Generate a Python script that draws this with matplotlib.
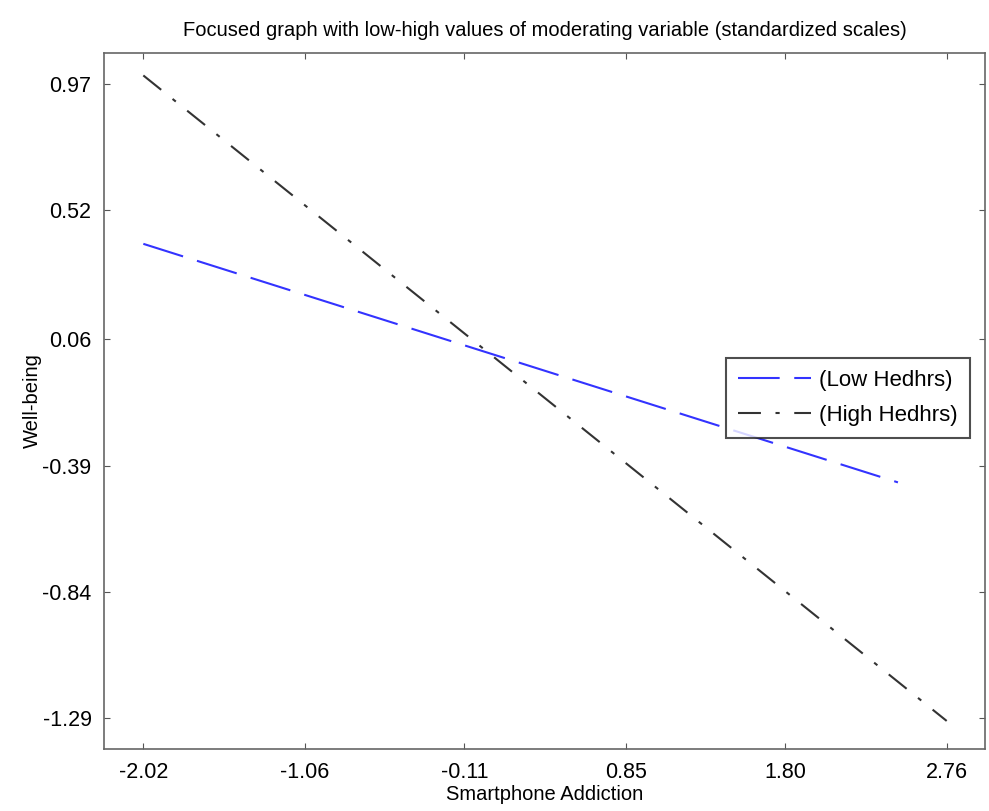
import matplotlib
matplotlib.use("Agg")
import matplotlib.pyplot as plt

plt.rcParams['font.family'] = ['Liberation Sans', 'DejaVu Sans']

x_ticks = [-2.02, -1.06, -0.11, 0.85, 1.80, 2.76]
x_tick_labels = ["-2.02", "-1.06", "-0.11", "0.85", "1.80", "2.76"]
y_ticks = [0.97, 0.52, 0.06, -0.39, -0.84, -1.29]
y_tick_labels = ["0.97", "0.52", "0.06", "-0.39", "-0.84", "-1.29"]

low_x = [-2.02, 2.47]
low_y = [0.40, -0.45]
high_x = [-2.02, 2.76]
high_y = [1.00, -1.30]

fig = plt.figure(figsize=(9.89, 8.11), dpi=100)
ax = fig.add_axes([104/989, 1-749/811, 881/989, 696/811])

ax.plot(low_x, low_y, color='#3333ff', lw=1.5, dashes=(20, 7), label='(Low Hedhrs)')
ax.plot(high_x, high_y, color='#333333', lw=1.5, dashes=(11, 7, 2, 7), label='(High Hedhrs)')

ax.set_xlim(-2.254, 2.988)
ax.set_ylim(-1.40, 1.08)
ax.set_xticks(x_ticks)
ax.set_xticklabels(x_tick_labels, fontsize=15.5)
ax.set_yticks(y_ticks)
ax.set_yticklabels(y_tick_labels, fontsize=15.5)
ax.tick_params(axis='x', direction='in', length=4, top=True, color='#555555', pad=9)
ax.tick_params(axis='y', direction='in', length=4, right=True, color='#555555', pad=9)
for s in ax.spines.values():
    s.set_color('#666666')
    s.set_linewidth(1.2)

ax.set_xlabel('Smartphone Addiction', fontsize=14.5, labelpad=2)
ax.set_ylabel('Well-being', fontsize=14.5, labelpad=0)
ax.set_title('Focused graph with low-high values of moderating variable (standardized scales)', fontsize=14.5, pad=12)

leg = ax.legend(loc='upper right', bbox_to_anchor=(0.983, 0.562), fontsize=16, frameon=True,
                fancybox=False, edgecolor='#222222', handlelength=3.3, borderpad=0.55, labelspacing=0.62,
                handletextpad=0.35, borderaxespad=0)
leg.get_frame().set_linewidth(1.5)

fig.savefig('out.png', dpi=100)
